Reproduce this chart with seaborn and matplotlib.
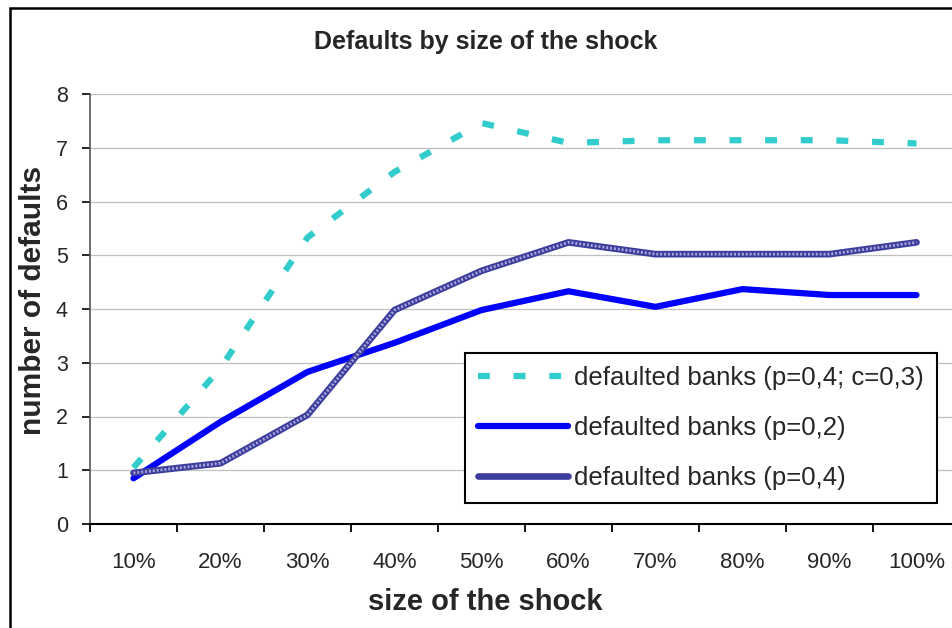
import numpy as np
import pandas as pd
import seaborn as sns
import matplotlib.pyplot as plt
from matplotlib.patches import Rectangle

# Daten
shock = ['10%', '20%', '30%', '40%', '50%', '60%', '70%', '80%', '90%', '100%']
banks_p04_c03 = [1.05, 2.9, 5.33, 6.55, 7.46, 7.09, 7.14, 7.14, 7.14, 7.08]
banks_p02 = [0.85, 1.9, 2.83, 3.37, 3.98, 4.33, 4.04, 4.37, 4.26, 4.26]
banks_p04 = [0.95, 1.13, 2.03, 3.98, 4.71, 5.24, 5.02, 5.02, 5.02, 5.24]

df = pd.DataFrame({'shock': shock, 'c03': banks_p04_c03, 'p02': banks_p02, 'p04': banks_p04})

sns.set_style("white")
plt.rcParams['font.family'] = ['Liberation Sans', 'DejaVu Sans']

fig = plt.figure(figsize=(9.52, 6.28), dpi=100)
ax = fig.add_axes([90/952, 104/628, 870/952, 430/628])

# Linien
sns.lineplot(x='shock', y='c03', data=df, ax=ax, color='#33CCCC', linewidth=4.5,
             linestyle=(0, (1.9, 3.8)), label='defaulted banks (p=0,4; c=0,3)')
sns.lineplot(x='shock', y='p02', data=df, ax=ax, color='#0000FF', linewidth=4.5,
             label='defaulted banks (p=0,2)')
sns.lineplot(x='shock', y='p04', data=df, ax=ax, color='#3D3D9E', linewidth=4.8,
             label='defaulted banks (p=0,4)')
# Karomuster auf der dritten Linie
sns.lineplot(x='shock', y='p04', data=df, ax=ax, color='#A8A8DA', linewidth=2,
             linestyle=(0, (0.7, 0.7)), legend=False)

ax.set_xlim(-0.5, 9.5)
ax.set_ylim(0, 8)
ax.set_yticks(range(0, 9))
ax.yaxis.grid(True, color='#9A9A9A', linewidth=0.9, linestyle=(0, (1, 0.6)))
ax.set_axisbelow(True)

# Kategorien-Ticks an den Grenzen, Labels in der Mitte
ax.set_xticks(np.arange(-0.5, 9.5, 1.0))
ax.set_xticklabels([])
ax.set_xticks(np.arange(0, 10), minor=True)
ax.set_xticklabels(shock, minor=True, fontsize=16)
ax.tick_params(axis='x', which='major', direction='out', length=6, width=1.3, color='black', bottom=True)
ax.tick_params(axis='x', which='minor', length=0, pad=20)
ax.tick_params(axis='y', direction='out', length=6, width=1.2, color='black', left=True,
               labelsize=15.5, pad=10)

for s in ['top', 'right']:
    ax.spines[s].set_visible(False)
ax.spines['left'].set_color('#555555')
ax.spines['left'].set_linewidth(1.2)
ax.spines['bottom'].set_color('black')
ax.spines['bottom'].set_linewidth(1.5)

ax.set_xlabel('size of the shock', fontsize=21, fontweight='bold')
ax.xaxis.set_label_coords((485-90)/870, (524-588)/430)
ax.set_ylabel('number of defaults', fontsize=21.5, fontweight='bold')
ax.yaxis.set_label_coords((47-90)/870, (524-300)/430)
fig.text(486/952, 1 - 42/628, 'Defaults by size of the shock', ha='center', va='center',
         fontsize=18, fontweight='bold')

leg = ax.legend(loc='upper left', bbox_to_anchor=((465-90)/870, (524-353)/430),
                bbox_transform=ax.transAxes, fontsize=18.5, frameon=True, fancybox=False,
                edgecolor='black', handlelength=3.5, handletextpad=0.25, borderpad=0.5,
                labelspacing=1.02, borderaxespad=0)
leg.get_frame().set_linewidth(1.5)
leg.get_frame().set_alpha(1)

# Rahmen um das Diagramm
fig.patches.append(Rectangle((10/952, -0.05), 1.0, 1 - 8/628 + 0.05, transform=fig.transFigure,
                             fill=False, edgecolor='black', linewidth=1.8))

plt.savefig('out.png', dpi=100)
